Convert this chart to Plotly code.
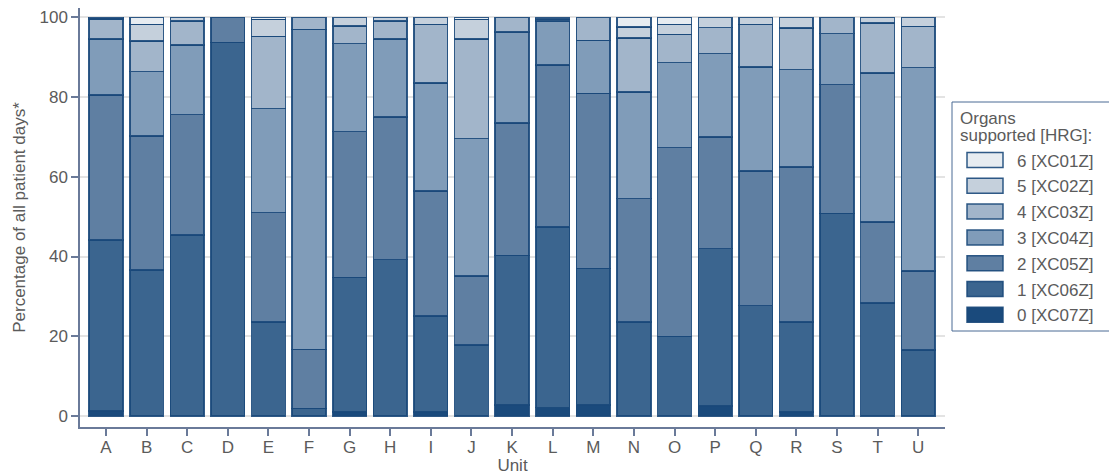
import plotly.graph_objects as go

units = list("ABCDEFGHIJKLMNOPQRSTU")

# Percentage of patient days by number of organs supported (segment values)
organs0 = [1.3, 0, 0, 0, 0, 0, 1.0, 0, 1.0, 0, 2.75, 2.1, 2.75, 0, 0, 2.5, 0, 1.0, 0, 0, 0]
organs1 = [42.9, 36.6, 45.4, 93.7, 23.6, 1.9, 33.8, 39.2, 24.1, 17.8, 37.55, 45.3, 34.25, 23.6, 20.0, 39.5, 27.7, 22.6, 50.8, 28.4, 16.6]
organs2 = [36.3, 33.6, 30.2, 6.3, 27.4, 14.8, 36.5, 35.8, 31.3, 17.3, 33.2, 40.6, 43.9, 30.9, 47.3, 28.0, 33.7, 38.9, 32.3, 20.2, 19.8]
organs3 = [14.0, 16.2, 17.4, 0, 26.1, 80.3, 22.1, 19.5, 27.1, 34.5, 22.8, 11.1, 13.3, 26.8, 21.3, 20.9, 26.1, 24.4, 12.8, 37.4, 51.0]
organs4 = [5.0, 7.7, 6.1, 0, 18.1, 3.0, 4.4, 4.6, 14.7, 24.9, 3.7, 0.5, 5.8, 13.5, 7.1, 6.5, 10.7, 10.4, 4.1, 12.6, 10.3]
organs5 = [0.3, 4.1, 0.9, 0, 4.3, 0, 2.2, 0.9, 1.8, 5.0, 0, 0.4, 0, 2.8, 2.5, 2.6, 1.8, 2.7, 0, 1.4, 2.3]
organs6 = [0.2, 1.8, 0, 0, 0.5, 0, 0, 0, 0, 0.5, 0, 0, 0, 2.4, 1.8, 0, 0, 0, 0, 0, 0]

series_names = ["0 [XC07Z]", "1 [XC06Z]", "2 [XC05Z]", "3 [XC04Z]", "4 [XC03Z]", "5 [XC02Z]", "6 [XC01Z]"]
series_values = [organs0, organs1, organs2, organs3, organs4, organs5, organs6]
colors = ["#1a4a7c", "#3b658f", "#5f7fa2", "#809cb9", "#a2b5ca", "#c5d0dc", "#e7ecf1"]
legend_title_lines = ["Organs", "supported [HRG]:"]

FONT = "Liberation Sans, Arial, sans-serif"
TXT = "#5b5b5b"
EDGE = "rgba(26,72,122,0.9)"
AXC = "#6a7a99"

# page layout (page is offset by the 8px body margin)
OFF = 8
PLOT_L, PLOT_R, PLOT_T, PLOT_B = 80, 945, 8, 427   # page pixels
FIG_W, FIG_H = 1117 - OFF, 475 - OFF


def px2paper_x(px):
    return (px - PLOT_L) / (PLOT_R - PLOT_L)


def px2paper_y(py):
    return (PLOT_B - py) / (PLOT_B - PLOT_T)


fig = go.Figure()
for name, vals, col in zip(series_names, series_values, colors):
    fig.add_trace(go.Bar(
        x=units,
        y=[v if v > 0 else None for v in vals],
        name=name,
        showlegend=False,
        marker=dict(color=col, line=dict(color=EDGE, width=1.5)),
        hoverinfo="x+y+name",
    ))

# ---- custom legend (box, swatches, labels) ----
shapes = []
annotations = []
LEG_L, LEG_R, LEG_T, LEG_B = 952, 1112, 102, 331
shapes.append(dict(type="rect", xref="paper", yref="paper",
                   x0=px2paper_x(LEG_L), x1=px2paper_x(LEG_R),
                   y0=px2paper_y(LEG_B), y1=px2paper_y(LEG_T),
                   line=dict(color="#4b6a94", width=1), fillcolor="white", layer="above"))
for i, line in enumerate(legend_title_lines):
    annotations.append(dict(xref="paper", yref="paper",
                            x=px2paper_x(958), y=px2paper_y(118 + 17.5 * i),
                            xanchor="left", yanchor="middle", showarrow=False,
                            text=line, font=dict(family=FONT, size=17, color=TXT)))
ITEM0, STEP = 160, 25.8
for k, idx in enumerate(range(len(series_names) - 1, -1, -1)):
    cy = ITEM0 + STEP * k
    shapes.append(dict(type="rect", xref="paper", yref="paper",
                       x0=px2paper_x(967), x1=px2paper_x(1003),
                       y0=px2paper_y(cy + 7.5), y1=px2paper_y(cy - 7.5),
                       line=dict(color=EDGE, width=1.5), fillcolor=colors[idx], layer="above"))
    annotations.append(dict(xref="paper", yref="paper",
                            x=px2paper_x(1015), y=px2paper_y(cy + 1),
                            xanchor="left", yanchor="middle", showarrow=False,
                            text=series_names[idx], font=dict(family=FONT, size=17, color=TXT)))

fig.update_layout(
    barmode="stack",
    bargap=0.17,
    width=FIG_W,
    height=FIG_H,
    margin=dict(l=PLOT_L - OFF, r=FIG_W - (PLOT_R - OFF), t=PLOT_T - OFF, b=FIG_H - (PLOT_B - OFF), autoexpand=False),
    plot_bgcolor="white",
    paper_bgcolor="white",
    font=dict(family=FONT, size=17, color=TXT),
    showlegend=False,
    shapes=shapes,
    annotations=annotations,
    xaxis=dict(
        title=dict(text="Unit", standoff=3, font=dict(size=17, color=TXT)),
        range=[-0.64, 20.66],
        showline=True, linecolor=AXC, linewidth=1.5,
        ticks="outside", ticklen=7, tickcolor=AXC, tickwidth=1.5,
        ticklabelstandoff=-3,
        showgrid=False,
        automargin=False,
    ),
    yaxis=dict(
        title=dict(text="Percentage of all patient days*", standoff=10, font=dict(size=17, color=TXT)),
        range=[-2.76, 102.33],
        tickvals=[0, 20, 40, 60, 80, 100],
        showline=True, linecolor=AXC, linewidth=1.5,
        ticks="outside", ticklen=7, tickcolor=AXC, tickwidth=1.5,
        showgrid=True, gridcolor="#e3e3e3", gridwidth=1.5,
        zeroline=False,
        automargin=False,
    ),
)

fig.write_html("out.html")
